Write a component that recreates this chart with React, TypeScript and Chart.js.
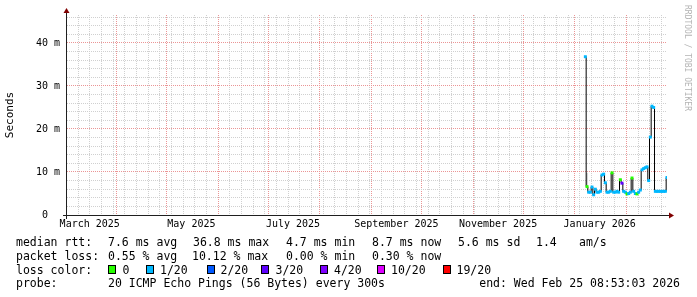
import React, { useEffect, useRef } from 'react';
import { Chart, registerables } from 'chart.js';

Chart.register(...registerables);

// ---------- data ----------
const END_TIME = '2026-02-25T08:53:03Z';
const RANGE_DAYS = 360;

const sampleDays = [
  '2026-01-07', '2026-01-08', '2026-01-09', '2026-01-10', '2026-01-11', '2026-01-12', '2026-01-13',
  '2026-01-14', '2026-01-15', '2026-01-16', '2026-01-17', '2026-01-18', '2026-01-19', '2026-01-20',
  '2026-01-21', '2026-01-22', '2026-01-23', '2026-01-24', '2026-01-25', '2026-01-26', '2026-01-27',
  '2026-01-28', '2026-01-29', '2026-01-30', '2026-01-31', '2026-02-01', '2026-02-02', '2026-02-03',
  '2026-02-04', '2026-02-05', '2026-02-06', '2026-02-07', '2026-02-08', '2026-02-09', '2026-02-10',
  '2026-02-11', '2026-02-12', '2026-02-13', '2026-02-14', '2026-02-15', '2026-02-16', '2026-02-17',
  '2026-02-18', '2026-02-19', '2026-02-20', '2026-02-21', '2026-02-22', '2026-02-23', '2026-02-24',
  '2026-02-25',
];

// median rtt in milliseconds
const medianMs = [
  36.8, 6.6, 5.3, 5.3, 6.5, 4.7, 6.0,
  5.3, 5.3, 5.5, 9.3, 9.5, 7.5, 5.3,
  5.3, 5.5, 9.8, 5.3, 5.3, 5.5, 5.3,
  8.2, 7.4, 5.5, 5.3, 4.9, 5.0, 5.3,
  8.6, 5.5, 5.0, 4.9, 5.3, 5.8, 10.5,
  10.8, 11.0, 11.2, 8.0, 18.1, 25.3, 25.0,
  5.5, 5.5, 5.5, 5.5, 5.5, 5.5, 5.5,
  8.7,
];

// index into lossColors
const lossClass = [
  1, 0, 1, 1, 1, 1, 1,
  1, 1, 1, 1, 1, 1, 1,
  1, 1, 0, 1, 1, 1, 1,
  0, 3, 1, 1, 0, 1, 1,
  0, 1, 1, 0, 1, 1, 1,
  1, 1, 1, 1, 1, 1, 1,
  1, 1, 1, 1, 1, 1, 1,
  1,
];

const smokeDay = '2026-01-08';
const smokeRangeMs = [6.5, 9.8];

const lossColors = ['#26ff00', '#00b8ff', '#0059ff', '#5e00ff', '#7e00ff', '#dd00ff', '#ff0000'];
const lossLabels = ['0', '1/20', '2/20', '3/20', '4/20', '10/20', '19/20'];

const monthLabels = ['March 2025', 'May 2025', 'July 2025', 'September 2025', 'November 2025', 'January 2026'];
const monthLabelStarts = ['2025-03-01', '2025-05-01', '2025-07-01', '2025-09-01', '2025-11-01', '2026-01-01'];
const monthGridStarts = [
  '2025-04-01', '2025-05-01', '2025-06-01', '2025-07-01', '2025-08-01', '2025-09-01',
  '2025-10-01', '2025-11-01', '2025-12-01', '2026-01-01', '2026-02-01',
];
const firstWeekStart = '2025-03-09';

const Y_MAX = 46.5;
const yGridStep = 2;
const yLabelValues = [0, 10, 20, 30, 40];
const yLabelTexts = ['0  ', '10 m', '20 m', '30 m', '40 m'];

const medianStats = ['7.6 ms avg', '36.8 ms max', '4.7 ms min', '8.7 ms now', '5.6 ms sd', '1.4', 'am/s'];
const lossStats = ['0.55 % avg', '10.12 % max', '0.00 % min', '0.30 % now'];
const probeText = '20 ICMP Echo Pings (56 Bytes) every 300s';
const endText = 'end: Wed Feb 25 08:53:03 2026';

// ---------- style ----------
const DAY = 86400000;
const MONO = "'DejaVu Sans Mono', monospace";
const MINOR = '#d0d0d0';
const MAJOR = '#eb9595';
const AXIS = '#1f1f1f';
const ARROW = '#800000';

const medianStatX = [108, 193, 286, 372, 458, 536, 579];
const lossStatX = [108, 192, 286, 372];
const swatchX = [108, 146, 207, 261, 320, 377, 443];
const swatchLabelX = [122.5, 160, 220.5, 275.5, 334, 391, 456.5];

const axisPlugin = {
  id: 'rrdAxes',
  afterDraw(chart: any) {
    const { ctx, chartArea } = chart;
    const { left, right, top, bottom } = chartArea;
    ctx.save();
    ctx.fillStyle = AXIS;
    ctx.fillRect(left - 4, bottom, right - left + 8, 1);
    ctx.fillRect(left - 1, top - 4, 1, bottom - top + 8);
    ctx.fillStyle = ARROW;
    ctx.beginPath();
    ctx.moveTo(right + 2, bottom - 3 + 0.5);
    ctx.lineTo(right + 2, bottom + 3 + 0.5);
    ctx.lineTo(right + 7, bottom + 0.5);
    ctx.closePath();
    ctx.fill();
    ctx.beginPath();
    ctx.moveTo(left - 3 - 0.5, top - 2);
    ctx.lineTo(left + 3 - 0.5, top - 2);
    ctx.lineTo(left - 0.5, top - 7);
    ctx.closePath();
    ctx.fill();
    ctx.restore();
  },
};

export default function App() {
  const ref = useRef<HTMLCanvasElement | null>(null);

  useEffect(() => {
    const end = Date.parse(END_TIME);
    const start = end - RANGE_DAYS * DAY;
    const toT = (d: string) => Date.parse(d + 'T00:00:00Z');
    const sampleT = (d: string) => Date.parse(d + 'T08:53:03Z');

    const points = sampleDays.map((d, i) => ({ x: sampleT(d), y: medianMs[i] }));
    const smokeT = sampleT(smokeDay);

    const labelTicks = monthLabelStarts.map((d) => toT(d) + 15 * DAY);
    const monthTicks = monthGridStarts.map(toT);
    const weekTicks: number[] = [];
    for (let t = toT(firstWeekStart); t < end; t += 7 * DAY) weekTicks.push(t);
    const yGrid: number[] = [];
    for (let v = 0; v < Y_MAX; v += yGridStep) yGrid.push(v);

    const gridAxis = (ticks: number[], color: string, z: number) => ({
      type: 'linear',
      position: 'bottom',
      min: start,
      max: end,
      z,
      offset: false,
      afterBuildTicks: (s: any) => {
        s.ticks = ticks.map((v) => ({ value: v }));
      },
      afterFit: (s: any) => {
        s.height = 0;
      },
      ticks: { display: false },
      grid: { color, lineWidth: 1, drawTicks: false, offset: false },
      border: { display: false, dash: [1, 1] },
    });

    const chart = new Chart(ref.current as HTMLCanvasElement, {
      type: 'line',
      data: {
        datasets: [
          {
            label: 'smoke',
            data: [
              { x: smokeT, y: smokeRangeMs[0] },
              { x: smokeT, y: smokeRangeMs[1] },
            ],
            borderColor: '#d4d4d4',
            borderWidth: 2,
            pointRadius: 0,
            order: 3,
          },
          {
            label: 'median',
            data: points,
            stepped: 'middle',
            borderColor: '#000000',
            borderWidth: 1,
            pointRadius: 0,
            order: 2,
          },
          {
            label: 'loss',
            data: points,
            showLine: false,
            pointStyle: 'rect',
            pointRadius: 2.1,
            pointBorderWidth: 0,
            pointBackgroundColor: lossClass.map((c) => lossColors[c]),
            order: 1,
          },
        ] as any,
      },
      options: {
        animation: false,
        responsive: false,
        events: [],
        layout: { padding: { left: 0, top: 15, right: 30, bottom: 62 } },
        plugins: { legend: { display: false }, tooltip: { enabled: false } },
        scales: {
          xWeek: gridAxis(weekTicks, MINOR, -3),
          xMonth: gridAxis(monthTicks, MAJOR, -2),
          x: {
            type: 'linear',
            position: 'bottom',
            min: start,
            max: end,
            offset: false,
            afterBuildTicks: (s: any) => {
              s.ticks = labelTicks.map((v) => ({ value: v }));
            },
            afterFit: (s: any) => {
              s.height = 20;
            },
            grid: { display: false, drawTicks: false },
            border: { display: false },
            ticks: {
              autoSkip: false,
              maxRotation: 0,
              padding: 3,
              color: '#000',
              font: { family: MONO, size: 10 },
              callback: (_v: any, i: number) => monthLabels[i],
            },
          },
          y: {
            type: 'linear',
            min: 0,
            max: Y_MAX,
            z: -1,
            afterBuildTicks: (s: any) => {
              s.ticks = yGrid.map((v) => ({ value: v }));
            },
            afterFit: (s: any) => {
              s.width = 67;
            },
            grid: {
              drawTicks: false,
              lineWidth: 1,
              color: (c: any) => (c.tick && c.tick.value % 10 === 0 ? MAJOR : MINOR),
            },
            border: { display: false, dash: [1, 1] },
            ticks: {
              autoSkip: false,
              padding: 7,
              color: '#000',
              font: { family: MONO, size: 10 },
              callback: (v: any) => {
                const k = yLabelValues.indexOf(Number(v));
                return k >= 0 ? yLabelTexts[k] : '';
              },
            },
            title: {
              display: true,
              text: 'Seconds',
              color: '#000',
              font: { family: MONO, size: 11 },
              padding: { top: 4, bottom: 0 },
            },
          },
        },
      } as any,
      plugins: [axisPlugin],
    });
    return () => chart.destroy();
  }, []);

  const textStyle = (left: number, yc: number): React.CSSProperties => ({
    position: 'absolute',
    left,
    top: yc - 7,
    height: 14,
    lineHeight: '14px',
    fontFamily: MONO,
    fontSize: '11.5px',
    color: '#000',
    whiteSpace: 'pre',
  });

  const rows = [241.5, 255.7, 269.5, 283];

  return (
    <div style={{ position: 'absolute', left: 0, top: 0, width: 697, height: 297, background: '#fff', overflow: 'hidden' }}>
      <canvas ref={ref} width={697} height={297} style={{ position: 'absolute', left: 0, top: 0, width: 697, height: 297 }} />
      <div
        style={{
          position: 'absolute',
          left: 683,
          top: 5,
          writingMode: 'vertical-rl',
          fontFamily: MONO,
          fontSize: '8px',
          lineHeight: '9px',
          color: '#b4b4b4',
          whiteSpace: 'pre',
        }}
      >
        RRDTOOL / TOBI OETIKER
      </div>
      <div style={textStyle(16, rows[0])}>median rtt:</div>
      {medianStats.map((s, i) => (
        <div key={'m' + i} style={textStyle(medianStatX[i], rows[0])}>{s}</div>
      ))}
      <div style={textStyle(16, rows[1])}>packet loss:</div>
      {lossStats.map((s, i) => (
        <div key={'l' + i} style={textStyle(lossStatX[i], rows[1])}>{s}</div>
      ))}
      <div style={textStyle(16, rows[2])}>loss color:</div>
      {lossLabels.map((s, i) => (
        <React.Fragment key={'c' + i}>
          <div
            style={{
              position: 'absolute',
              left: swatchX[i],
              top: rows[2] - 4.5,
              width: 6,
              height: 7,
              border: '1px solid #000',
              background: lossColors[i],
            }}
          />
          <div style={textStyle(swatchLabelX[i], rows[2])}>{s}</div>
        </React.Fragment>
      ))}
      <div style={textStyle(16, rows[3])}>probe:</div>
      <div style={textStyle(108, rows[3])}>{probeText}</div>
      <div style={{ ...textStyle(0, rows[3]), left: undefined, right: 697 - 680 }}>{endText}</div>
    </div>
  );
}
